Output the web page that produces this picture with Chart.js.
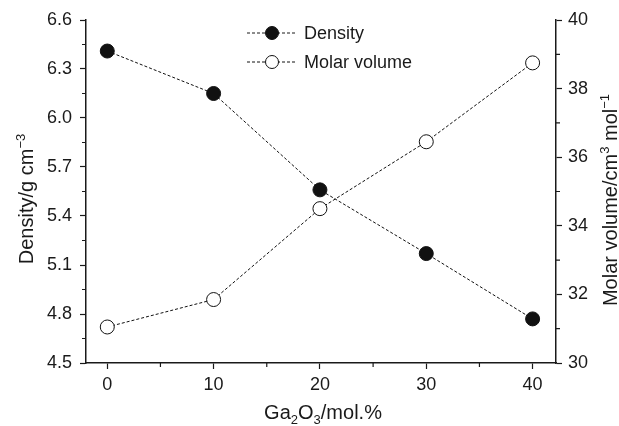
<!DOCTYPE html>
<html>
<head>
<meta charset="utf-8">
<script src="https://cdn.jsdelivr.net/npm/chart.js@4"></script>
<style>
  html, body { margin: 0; padding: 0; background: #fff; }
  #wrap { width: 619px; height: 426px; }
</style>
</head>
<body>
<div id="wrap"><canvas id="chart" width="619" height="426"></canvas></div>
<script>
// values
const gaContent = [0, 10, 20, 30, 40];
const density = [6.41, 6.15, 5.56, 5.17, 4.77];
const molarVolume = [31.05, 31.85, 34.5, 36.45, 38.75];

const xTicks = [0, 10, 20, 30, 40];
const xMinor = [5, 15, 25, 35];
const densityTicks = [4.5, 4.8, 5.1, 5.4, 5.7, 6.0, 6.3, 6.6];
const densityMinor = [4.65, 4.95, 5.25, 5.55, 5.85, 6.15, 6.45];
const volumeTicks = [30, 32, 34, 36, 38, 40];
const volumeMinor = [31, 33, 35, 37, 39];

const FONT = "'Liberation Sans', Arial, Helvetica, sans-serif";
const INK = "#1a1a1a";

function toPoints(ys) {
  return gaContent.map((x, i) => ({ x: x, y: ys[i] }));
}

// draw text pieces with sub/superscripts, returns total width
function richText(ctx, parts, x, y, measureOnly) {
  let cx = x;
  parts.forEach(p => {
    const size = p.s ? 13 : 20;
    ctx.font = size + "px " + FONT;
    const dy = p.s === "sup" ? -8 : p.s === "sub" ? 5 : 0;
    if (!measureOnly) ctx.fillText(p.t, cx, y + dy);
    cx += ctx.measureText(p.t).width;
  });
  return cx - x;
}

const extras = {
  id: "extras",
  afterDraw(chart) {
    const ctx = chart.ctx;
    const xs = chart.scales.x, yl = chart.scales.y, yr = chart.scales.y2;
    ctx.save();
    ctx.strokeStyle = INK;
    ctx.lineWidth = 1.2;
    ctx.beginPath();
    xMinor.forEach(v => {
      const px = xs.getPixelForValue(v);
      ctx.moveTo(px, xs.top); ctx.lineTo(px, xs.top + 4);
    });
    densityMinor.forEach(v => {
      const py = yl.getPixelForValue(v);
      ctx.moveTo(yl.right, py); ctx.lineTo(yl.right - 4, py);
    });
    volumeMinor.forEach(v => {
      const py = yr.getPixelForValue(v);
      ctx.moveTo(yr.left, py); ctx.lineTo(yr.left + 4, py);
    });
    ctx.stroke();

    // legend
    ctx.fillStyle = INK;
    ctx.textBaseline = "middle";
    const rows = [
      { label: "Density", fill: "#111", y: 33 },
      { label: "Molar volume", fill: "#fff", y: 62 }
    ];
    rows.forEach(r => {
      ctx.setLineDash([3, 2]);
      ctx.lineWidth = 1;
      ctx.beginPath();
      ctx.moveTo(247, r.y); ctx.lineTo(297, r.y);
      ctx.stroke();
      ctx.setLineDash([]);
      ctx.beginPath();
      ctx.arc(272, r.y, 6.5, 0, Math.PI * 2);
      ctx.fillStyle = r.fill;
      ctx.fill();
      ctx.strokeStyle = "#111";
      ctx.stroke();
      ctx.fillStyle = INK;
      ctx.font = "18px " + FONT;
      ctx.textAlign = "left";
      ctx.fillText(r.label, 304, r.y + 1);
    });

    // axis titles
    ctx.textAlign = "left";
    ctx.textBaseline = "alphabetic";
    const xTitle = [{ t: "Ga" }, { t: "2", s: "sub" }, { t: "O" }, { t: "3", s: "sub" }, { t: "/mol.%" }];
    const w1 = richText(ctx, xTitle, 0, 0, true);
    richText(ctx, xTitle, 323 - w1 / 2, 419);

    const yTitle = [{ t: "Density/g cm" }, { t: "\u22123", s: "sup" }];
    const w2 = richText(ctx, yTitle, 0, 0, true);
    ctx.save();
    ctx.translate(33, 199);
    ctx.rotate(-Math.PI / 2);
    richText(ctx, yTitle, -w2 / 2, 0);
    ctx.restore();

    const y2Title = [{ t: "Molar volume/cm" }, { t: "3", s: "sup" }, { t: " mol" }, { t: "\u22121", s: "sup" }];
    const w3 = richText(ctx, y2Title, 0, 0, true);
    ctx.save();
    ctx.translate(617, 200);
    ctx.rotate(-Math.PI / 2);
    richText(ctx, y2Title, -w3 / 2, 0);
    ctx.restore();
    ctx.restore();
  }
};

function axisStyle(pad, extra) {
  return Object.assign({
    border: { display: true, color: INK, width: 1.5 },
    grid: { display: true, drawOnChartArea: false, drawTicks: true, tickLength: 6, color: INK, tickWidth: 1.2 },
    ticks: { color: INK, font: { family: FONT, size: 18 }, padding: pad }
  }, extra);
}

new Chart(document.getElementById("chart"), {
  type: "line",
  data: {
    datasets: [
      {
        label: "Density",
        data: toPoints(density),
        yAxisID: "y",
        borderColor: "#111",
        borderWidth: 1,
        borderDash: [3, 2],
        pointRadius: 7,
        pointBackgroundColor: "#111",
        pointBorderColor: "#111",
        pointBorderWidth: 1
      },
      {
        label: "Molar volume",
        data: toPoints(molarVolume),
        yAxisID: "y2",
        borderColor: "#111",
        borderWidth: 1,
        borderDash: [3, 2],
        pointRadius: 7,
        pointBackgroundColor: "#fff",
        pointBorderColor: "#111",
        pointBorderWidth: 1
      }
    ]
  },
  options: {
    responsive: false,
    animation: false,
    layout: { padding: { top: 20, left: 0, right: 0, bottom: 0 } },
    plugins: { legend: { display: false }, tooltip: { enabled: false } },
    scales: {
      x: axisStyle(5, {
        type: "linear",
        min: -2,
        max: 42.2,
        afterBuildTicks: s => { s.ticks = xTicks.map(v => ({ value: v })); },
        afterFit: s => { s.height = 63; }
      }),
      y: axisStyle(8, {
        type: "linear",
        position: "left",
        min: 4.5,
        max: 6.6,
        afterBuildTicks: s => { s.ticks = densityTicks.map(v => ({ value: v })); },
        afterFit: s => { s.width = 86; }
      }),
      y2: axisStyle(6, {
        type: "linear",
        position: "right",
        min: 30,
        max: 40,
        afterBuildTicks: s => { s.ticks = volumeTicks.map(v => ({ value: v })); },
        afterFit: s => { s.width = 63; }
      })
    }
  },
  plugins: [extras]
});

// tick label formatting for density
Chart.getChart("chart").options.scales.y.ticks.callback = v => Number(v).toFixed(1);
Chart.getChart("chart").update();
</script>
</body>
</html>
